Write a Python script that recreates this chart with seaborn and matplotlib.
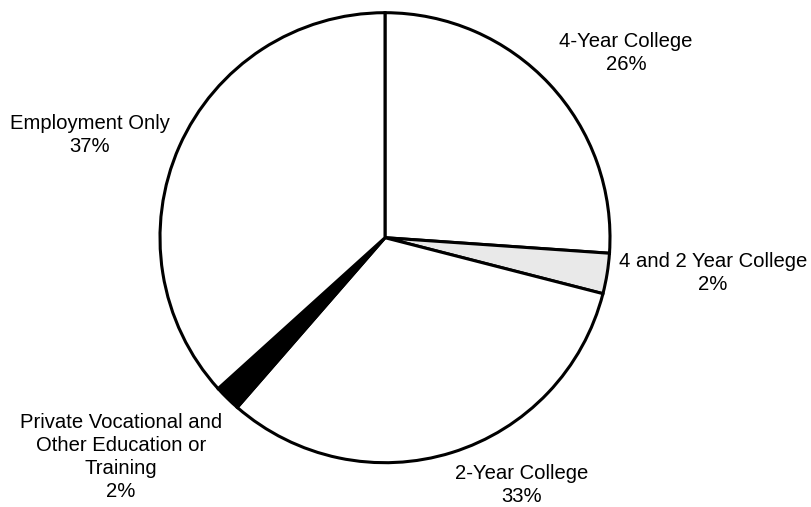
import matplotlib
matplotlib.use("Agg")
import matplotlib.pyplot as plt
import seaborn as sns

# Data (clockwise from 12 o'clock)
categories = ["4-Year College", "4 and 2 Year College", "2-Year College",
              "Private Vocational and\nOther Education or\nTraining", "Employment Only"]
values = [26.1, 2.9, 32.4, 1.9, 36.7]
pct_labels = ["26%", "2%", "33%", "2%", "37%"]
colors = ["white", "#e9e9e9", "white", "black", "white"]

# label anchor: (x center px, last-line baseline px)
label_pos = [(626, 70), (713, 290), (522, 501.7), (121, 496.7), (90, 151.7)]

sns.set_theme(style="white")
plt.rcParams["font.family"] = ["Liberation Sans", "DejaVu Sans"]

W, H = 812, 507
fig = plt.figure(figsize=(W / 100, H / 100), dpi=100)
fig.patch.set_facecolor("white")

cx, cy, r = 385, 237.7, 225
ax = fig.add_axes([(cx - r) / W, (H - cy - r) / H, 2 * r / W, 2 * r / H])
ax.pie(values, colors=colors, startangle=90, counterclock=False, radius=1,
       wedgeprops=dict(edgecolor="black", linewidth=2.2))
ax.set_xlim(-1, 1)
ax.set_ylim(-1, 1)
ax.set_aspect("equal")
ax.axis("off")

for cat, pct, (x, y) in zip(categories, pct_labels, label_pos):
    fig.text(x / W, 1 - y / H, f"{cat}\n{pct}", ha="center", va="baseline",
             multialignment="center", fontsize=14.6, color="black",
             linespacing=1.25)

fig.savefig("out.png", dpi=100, facecolor="white")
